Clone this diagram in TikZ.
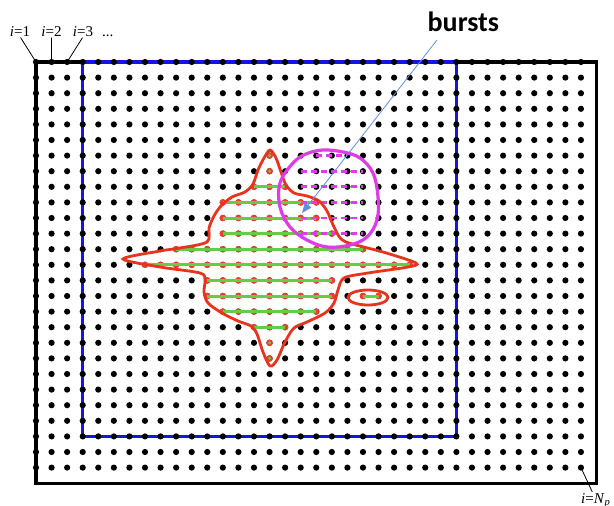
\documentclass[tikz,border=0pt]{standalone}
\usepackage{fontspec}
\setmainfont{Liberation Serif}
\newfontfamily\burstfont{Carlito}
\usetikzlibrary{arrows.meta}
\definecolor{redline}{RGB}{232,52,30}
\definecolor{reddot}{RGB}{232,64,44}
\definecolor{greenline}{RGB}{102,204,68}
\definecolor{magline}{RGB}{222,60,230}
\definecolor{blueline}{RGB}{20,20,230}
\definecolor{arrowblue}{RGB}{100,140,220}
\begin{document}
\begin{tikzpicture}[x=1pt,y=-1pt,
  blackdot/.style={fill=black},
  reddotst/.style={fill=reddot},
  greenseg/.style={draw=greenline,line width=3pt},
  magdash/.style={draw=magline,line width=2.8pt,dash pattern=on 6pt off 4pt},
  redoutline/.style={draw=redline,line width=2.8pt},
  framest/.style={draw=black,line width=3.3pt},
  bluest/.style={draw=blueline,line width=3.3pt},
  lbl/.style={font=\fontsize{15}{18}\selectfont,inner sep=0pt},
  leader/.style={draw=black,line width=0.8pt,shorten <=1pt,shorten >=1pt},
  burstlbl/.style={font=\burstfont\bfseries\fontsize{28}{32}\selectfont,inner sep=0pt},
  arrowst/.style={draw=arrowblue,line width=0.8pt,-{Triangle[length=10pt,width=8pt,fill=arrowblue]}}
]
\useasboundingbox (0,0) rectangle (614,506);
\fill[white] (0,0) rectangle (614,506);

% grid coordinates
\foreach \c in {0,...,35}{
  \foreach \r in {0,...,26}{
    \coordinate (p-\c-\r) at ({36+15.57*\c},{62+15.6*\r});
  }
}
\coordinate (frameSE) at ({36+15.57*36},{62+15.6*27});

% frames
\path[framest] (p-0-0) rectangle (frameSE);
\path[bluest] (p-3-0) rectangle (p-27-24);

% black dots
\foreach \c in {0,...,35}{
  \foreach \r in {0,...,26}{
    \fill[blackdot] (p-\c-\r) circle[radius=3.1pt];
  }
}

% points inside the red region
\foreach \r/\a/\b in {6/15/15,7/15/15,8/14/16,9/12/18,10/12/18,11/12/19,12/9/21,13/7/24,14/11/19,15/11/19,16/12/18,17/14/16,18/15/15,19/15/15}{
  \foreach \c in {\a,...,\b}{
    \fill[reddotst] (p-\c-\r) circle[radius=3.3pt];
  }
  \ifnum\a<\b
    \path[greenseg] (p-\a-\r) -- (p-\b-\r);
  \else
    \fill[greenline] (p-\a-\r) circle[radius=1.6pt];
  \fi
}
% small isolated pair
\fill[reddotst] (p-21-15) circle[radius=3.3pt];
\fill[reddotst] (p-22-15) circle[radius=3.3pt];
\path[greenseg] (p-21-15) -- (p-22-15);

% burst dashes
\foreach \r/\a/\b in {6/18/20,7/17/21,8/17/21,9/17/21,10/17/21,11/17/21}{
  \path[magdash] (p-\a-\r) -- (p-\b-\r);
}

% red outline
\path[redoutline] plot[smooth cycle, tension=0.5] coordinates {
(270,150) (276,158) (281,172) (286,185) (294,193) (307,196) (319,201)
(327,211) (334,227) (341,239) (352,244) (383,252) (416,263) (408,267)
(368,273) (344,278) (338,290) (334,303) (325,313) (307,322) (294,328)
(285,342) (277,360) (270,366) (263,352) (257,334) (251,326) (238,321)
(222,313) (208,303) (204,292) (205,280) (200,273) (160,267) (123,259)
(160,251) (180,248) (207,242) (209,228) (214,216) (221,206) (232,197)
(245,192) (253,184) (258,170) (264,158)};

% small red ellipse
\path[redoutline] (368,297.5) ellipse[x radius=20, y radius=7.5];

% magenta burst circle
\draw[magline,line width=3.2pt] plot[smooth cycle, tension=0.6] coordinates {
(323,150) (343,152) (360,158) (373,173) (378,197) (377,220) (367,237)
(350,245) (327,247) (307,240) (290,227) (280,207) (280,183) (293,163) (306,154)};

% labels
\node[lbl,anchor=base] (l1) at (20,36.5) {\textit{i}=1};
\node[lbl,anchor=base] (l2) at (51.5,36.5) {\textit{i}=2};
\node[lbl,anchor=base] (l3) at (83,36.5) {\textit{i}=3};
\node[lbl,anchor=base west] (ldots) at (102,36.5) {...};
\path[leader] (l1.south) -- (p-0-0);
\path[leader] (l2.south) -- (p-1-0);
\path[leader] (l3.south) -- (p-2-0);

\node[lbl,anchor=base west] (lN) at (581,503) {\textit{i}=\textit{N}\textsubscript{\textit{p}}};
\path[leader] (p-35-26) -- ([xshift=-3pt]lN.north);

% bursts label and arrow
\node[burstlbl,anchor=base] (bursts) at (463.4,31.7) {bursts};
\coordinate (arrS) at (437,40);
\coordinate (arrE) at (302,213);
\path[arrowst] (arrS) -- (arrE);
\end{tikzpicture}
\end{document}
